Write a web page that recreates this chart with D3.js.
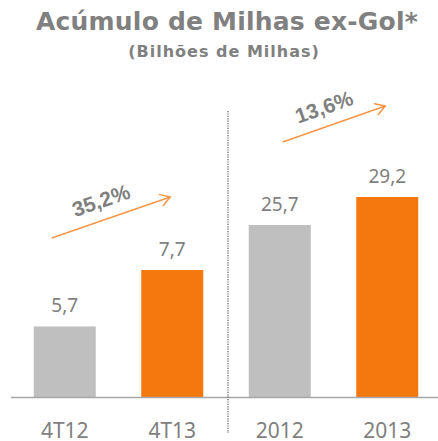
<!DOCTYPE html>
<html>
<head>
<meta charset="utf-8">
<script src="https://cdn.jsdelivr.net/npm/d3@7"></script>
<style>
  body { margin: 0; background: #fff; }
  svg { display: block; }
</style>
</head>
<body>
<svg id="chart" width="438" height="441"></svg>
<script>
// dados
let categories = ['4T12', '4T13', '2012', '2013'];
let values = [5.7, 7.7, 25.7, 29.2];
let barColors = ['#bfbfbf', '#f5780f', '#bfbfbf', '#f5780f'];
let valueLabels = ['5,7', '7,7', '25,7', '29,2'];
let growthLabels = ['35,2%', '13,6%'];

let svg = d3.select('#chart');
let baseY = 397;

let x = d3.scalePoint().domain(categories).range([11, 441]).padding(0.5);
// two panels, each with its own value axis
let yLeft = d3.scaleLinear().domain([3.2, 7.7]).range([baseY, 270]);
let yRight = d3.scaleLinear().domain([4.2, 29.2]).range([baseY, 197]);
function yOf(i) { return i < 2 ? yLeft(values[i]) : yRight(values[i]); }

let barW = 62;
let gray = '#808080';

// titulo
svg.append('text')
  .attr('x', 227).attr('y', 30)
  .attr('text-anchor', 'middle')
  .style('font-family', 'DejaVu Sans')
  .style('font-weight', 'bold')
  .style('font-size', '25px')
  .style('letter-spacing', '0.2px')
  .style('fill', gray)
  .text('Acúmulo de Milhas ex-Gol*');

svg.append('text')
  .attr('x', 224).attr('y', 57)
  .attr('text-anchor', 'middle')
  .style('font-family', 'DejaVu Sans')
  .style('font-weight', 'bold')
  .style('font-size', '16px')
  .style('letter-spacing', '1px')
  .style('fill', gray)
  .text('(Bilhões de Milhas)');

// barras
svg.selectAll('rect.bar')
  .data(values)
  .enter().append('rect')
  .attr('class', 'bar')
  .attr('x', (d, i) => x(categories[i]) - barW / 2)
  .attr('y', (d, i) => yOf(i))
  .attr('width', barW)
  .attr('height', (d, i) => baseY - yOf(i))
  .style('fill', (d, i) => barColors[i]);

svg.selectAll('text.val')
  .data(values)
  .enter().append('text')
  .attr('class', 'val')
  .attr('x', (d, i) => x(categories[i]))
  .attr('y', (d, i) => yOf(i) - 14)
  .attr('text-anchor', 'middle')
  .style('font-family', 'Noto Sans')
  .style('font-size', '19px')
  .style('fill', '#7f7f7f')
  .text((d, i) => valueLabels[i]);

// eixo
svg.append('line')
  .attr('x1', 11).attr('x2', 438)
  .attr('y1', baseY + 0.5).attr('y2', baseY + 0.5)
  .style('stroke', '#a6a6a6')
  .style('stroke-width', 1.5);

svg.selectAll('text.cat')
  .data(categories)
  .enter().append('text')
  .attr('class', 'cat')
  .attr('x', d => x(d))
  .attr('y', 438)
  .attr('text-anchor', 'middle')
  .style('font-family', 'Noto Sans')
  .style('font-size', '21px')
  .style('fill', '#7f7f7f')
  .text(d => d);

// separador
let sepX = (x(categories[1]) + x(categories[2])) / 2 + 2;
svg.append('line')
  .attr('x1', sepX).attr('x2', sepX)
  .attr('y1', 111).attr('y2', 433)
  .style('stroke', '#595959')
  .style('stroke-width', 1.2)
  .style('stroke-dasharray', '1.2,1.2');

// setas de crescimento
let arrows = [
  { x1: x(categories[0]) - 13, y1: 238, x2: x(categories[1]) - 2, y2: 197 },
  { x1: x(categories[2]) + 3, y1: 142, x2: x(categories[3]) - 2, y2: 106 }
];
let arrowColor = '#f79646';
arrows.forEach(function(a, i) {
  let ang = Math.atan2(a.y2 - a.y1, a.x2 - a.x1);
  let g = svg.append('g');
  g.append('line')
    .attr('x1', a.x1).attr('y1', a.y1).attr('x2', a.x2).attr('y2', a.y2)
    .style('stroke', arrowColor).style('stroke-width', 1.5);
  [-0.55, 0.55].forEach(function(da) {
    g.append('line')
      .attr('x1', a.x2).attr('y1', a.y2)
      .attr('x2', a.x2 - 11 * Math.cos(ang + da))
      .attr('y2', a.y2 - 11 * Math.sin(ang + da))
      .style('stroke', arrowColor).style('stroke-width', 1.5)
      .style('stroke-linecap', 'round');
  });
  let cx = (a.x1 + a.x2) / 2 - 10;
  let cy = (a.y1 + a.y2) / 2 - 17;
  svg.append('text')
    .attr('transform', 'translate(' + cx + ',' + cy + ') rotate(' + (ang * 180 / Math.PI) + ')')
    .attr('text-anchor', 'middle')
    .attr('dy', '0.35em')
    .style('font-family', 'Liberation Sans')
    .style('font-weight', 'bold')
    .style('font-size', '21px')
    .style('fill', gray)
    .text(growthLabels[i]);
});
</script>
</body>
</html>
